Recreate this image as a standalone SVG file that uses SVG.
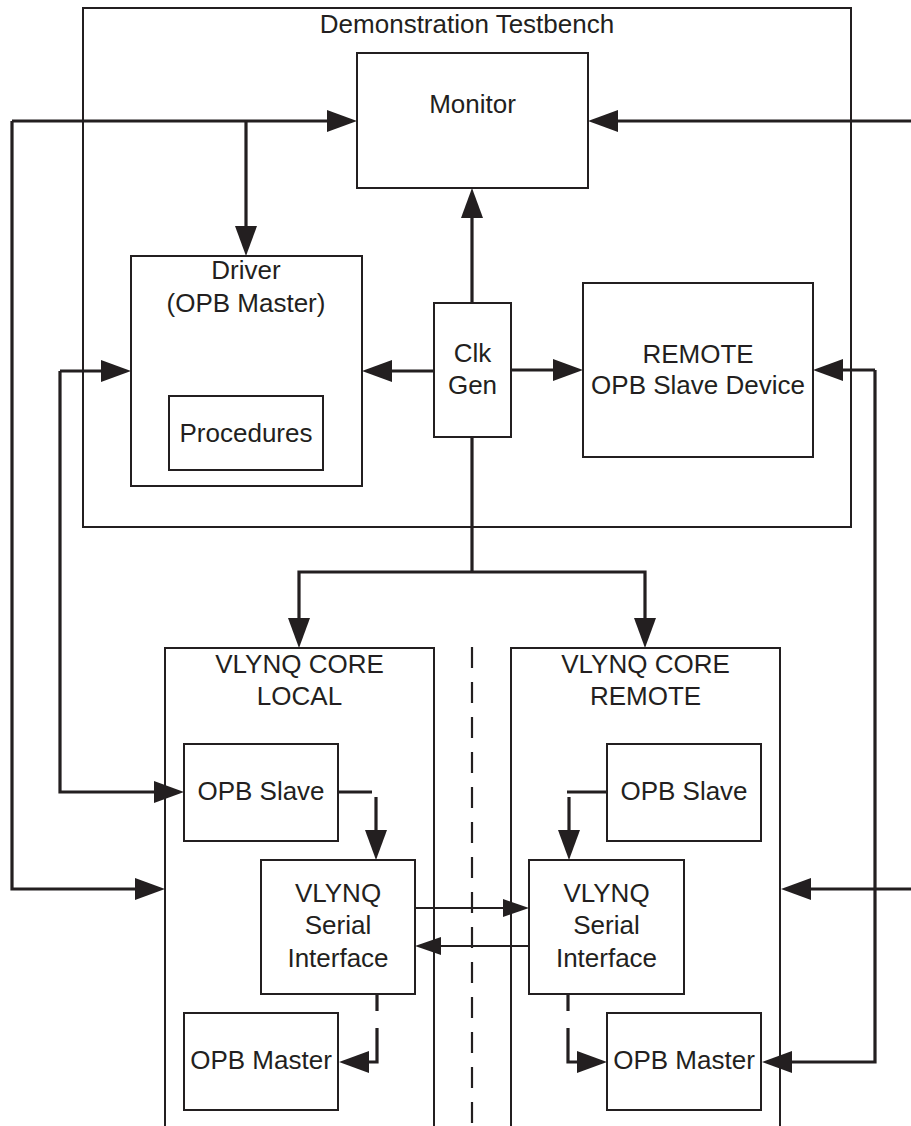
<svg xmlns="http://www.w3.org/2000/svg" width="911" height="1126" viewBox="0 0 911 1126">
<style>
.box{fill:none;stroke:#231f20;stroke-width:2;stroke-linejoin:miter}
.c{fill:none;stroke:#231f20;stroke-width:3.2;stroke-linejoin:miter;stroke-linecap:butt}
.ca{fill:none;stroke:#231f20;stroke-width:3.2;stroke-linejoin:miter;stroke-linecap:butt;marker-end:url(#ah)}
.t{fill:none;stroke:#231f20;stroke-width:1.8;marker-end:url(#ahs)}
.dash{fill:none;stroke:#231f20;stroke-width:2.2;stroke-dasharray:21 14}
text{font-family:"Liberation Sans",Arial,sans-serif;font-size:26px;fill:#231f20;text-anchor:middle}
</style>
<defs>
<marker id="ah" markerUnits="userSpaceOnUse" markerWidth="30" markerHeight="22" viewBox="0 0 30 22" refX="20" refY="11" orient="auto">
<path d="M0,0 L30,11 L0,22 z" fill="#231f20"/>
</marker>
<marker id="ahs" markerUnits="userSpaceOnUse" markerWidth="26" markerHeight="18" viewBox="0 0 26 18" refX="16" refY="9" orient="auto">
<path d="M0,0 L26,9 L0,18 z" fill="#231f20"/>
</marker>
</defs>

<g id="testbench">
<rect class="box" x="83" y="8" width="768" height="519"/>
<text x="467" y="33">Demonstration Testbench</text>
</g>
<g id="monitor">
<rect class="box" x="357" y="53" width="231" height="135"/>
<text x="472.5" y="113">Monitor</text>
</g>
<g id="driver">
<rect class="box" x="131" y="256" width="231" height="230"/>
<text x="246" y="279">Driver</text>
<text x="246" y="312">(OPB Master)</text>
</g>
<g id="procedures">
<rect class="box" x="169" y="396" width="154" height="74"/>
<text x="246" y="442">Procedures</text>
</g>
<g id="clkgen">
<rect class="box" x="434" y="303" width="77" height="134"/>
<text x="472.5" y="362">Clk</text>
<text x="472.5" y="394">Gen</text>
</g>
<g id="remote-slave-device">
<rect class="box" x="583" y="283" width="230" height="174"/>
<text x="698" y="363">REMOTE</text>
<text x="698" y="394">OPB Slave Device</text>
</g>
<g id="core-local">
<path class="box" d="M165,1130 V648 H434 V1130"/>
<text x="299.5" y="673">VLYNQ CORE</text>
<text x="299.5" y="705">LOCAL</text>
</g>
<g id="core-remote">
<path class="box" d="M511,1130 V648 H780 V1130"/>
<text x="645.5" y="673">VLYNQ CORE</text>
<text x="645.5" y="705">REMOTE</text>
</g>
<g id="local-opb-slave">
<rect class="box" x="184" y="744" width="154" height="97"/>
<text x="261" y="800">OPB Slave</text>
</g>
<g id="local-serial">
<rect class="box" x="261" y="860" width="154" height="134"/>
<text x="338" y="902">VLYNQ</text>
<text x="338" y="934">Serial</text>
<text x="338" y="967">Interface</text>
</g>
<g id="local-opb-master">
<rect class="box" x="184" y="1013" width="154" height="97"/>
<text x="261" y="1069">OPB Master</text>
</g>
<g id="remote-opb-slave">
<rect class="box" x="607" y="744" width="154" height="97"/>
<text x="684" y="800">OPB Slave</text>
</g>
<g id="remote-serial">
<rect class="box" x="529" y="860" width="155" height="134"/>
<text x="606.5" y="902">VLYNQ</text>
<text x="606.5" y="934">Serial</text>
<text x="606.5" y="967">Interface</text>
</g>
<g id="remote-opb-master">
<rect class="box" x="607" y="1013" width="154" height="97"/>
<text x="684" y="1069">OPB Master</text>
</g>

<g id="connectors">
<line class="dash" x1="472" y1="647" x2="472" y2="1126"/>
<path class="ca" d="M12,121 H347"/>
<path class="ca" d="M12,121 V889 H155"/>
<path class="ca" d="M246,121 V246"/>
<path class="ca" d="M911,121 H598"/>
<path class="ca" d="M911,889 H791"/>
<path class="ca" d="M60,371 H121"/>
<path class="ca" d="M60,371 V792 H174"/>
<path class="ca" d="M875,370 H823"/>
<path class="ca" d="M875,370 V1062 H772"/>
<path class="ca" d="M472,303 V198"/>
<path class="ca" d="M434,371 H372"/>
<path class="ca" d="M511,370 H573"/>
<path class="c" d="M472,437 V572"/>
<path class="ca" d="M472,572 H299 V638"/>
<path class="ca" d="M472,572 H645 V638"/>
<path class="c" d="M338,792 H372"/>
<path class="ca" d="M376,797 V850"/>
<path class="c" d="M607,792 H567"/>
<path class="ca" d="M569,797 V850"/>
<path class="t" d="M415,908 H519"/>
<path class="t" d="M529,946 H425"/>
<path class="c" d="M377,994 V1011"/>
<path class="ca" d="M377,1028 V1062 H349"/>
<path class="c" d="M568,994 V1011"/>
<path class="ca" d="M568,1028 V1062 H597"/>
</g>
</svg>
